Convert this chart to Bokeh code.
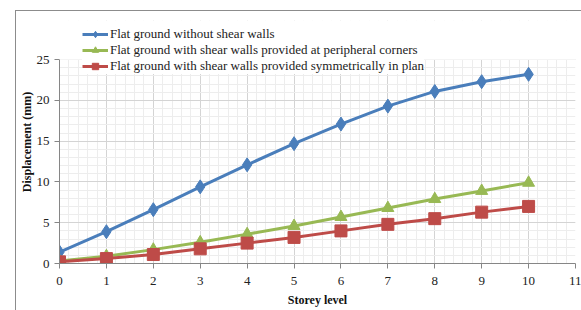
from bokeh.plotting import figure
from bokeh.models import FixedTicker, Legend, LegendItem, BoxAnnotation, Range1d
from bokeh.embed import file_html
from bokeh.resources import INLINE

storey = [0, 1, 2, 3, 4, 5, 6, 7, 8, 9, 10]
no_walls = [1.4, 3.9, 6.6, 9.4, 12.1, 14.7, 17.1, 19.3, 21.1, 22.3, 23.2]
corners = [0.3, 0.9, 1.7, 2.6, 3.6, 4.6, 5.7, 6.8, 7.9, 8.9, 9.9]
symmetric = [0.2, 0.6, 1.1, 1.8, 2.5, 3.2, 4.0, 4.8, 5.5, 6.3, 7.0]
x_ticks = [0, 1, 2, 3, 4, 5, 6, 7, 8, 9, 10, 11]
y_ticks = [0, 5, 10, 15, 20, 25]
names = ["Flat ground without shear walls",
         "Flat ground with shear walls provided at peripheral corners",
         "Flat ground with shear walls provided symmetrically in plan"]
colors = ["#4A7EBB", "#98B954", "#BE4B48"]

FONT = "Liberation Serif"
Y_MAX = 25
Y_TOP = 29.8  # extra room above the plot for the legend

p = figure(width=566, height=300, output_backend="svg", toolbar_location=None,
           x_range=Range1d(0, 11), y_range=Range1d(0, Y_TOP),
           min_border_left=43, min_border_right=7, min_border_top=9, min_border_bottom=48)
p.outline_line_color = None
p.background_fill_color = "white"
p.border_fill_color = "white"
p.margin = (10, 0, 0, 15)
p.styles = {"border-top": "1px solid #8C8C8C", "border-left": "1px solid #8C8C8C"}

x_minor = [i / 5 for i in range(0, 56)]
y_minor = list(range(0, 26))
p.xgrid.ticker = FixedTicker(ticks=x_ticks, minor_ticks=x_minor)
p.ygrid.ticker = FixedTicker(ticks=y_ticks, minor_ticks=y_minor)
for g in (p.xgrid, p.ygrid):
    g.grid_line_color = "#D4D4D4"
    g.minor_grid_line_color = "#EDEDED"

p.xaxis.ticker = FixedTicker(ticks=x_ticks)
p.yaxis.ticker = FixedTicker(ticks=y_ticks)
p.yaxis.bounds = (0, Y_MAX)
for ax in (p.xaxis, p.yaxis):
    ax.axis_line_color = "#868686"
    ax.major_tick_line_color = "#868686"
    ax.major_tick_in = 0
    ax.major_tick_out = 5
    ax.minor_tick_line_color = None
    ax.major_label_text_font = FONT
    ax.major_label_text_font_size = "13px"
    ax.major_label_text_color = "#222222"
    ax.axis_label_text_font = FONT
    ax.axis_label_text_font_size = "12px"
    ax.axis_label_text_font_style = "bold"
    ax.axis_label_text_color = "#111111"
p.xaxis.major_label_standoff = 8
p.xaxis.axis_label_standoff = 5
p.yaxis.major_label_standoff = 5
p.yaxis.axis_label_standoff = 0
p.xaxis.axis_label = "Storey level"
p.yaxis.axis_label = "Displacement (mm)"

# white cover hiding the grid above the top value
cover = BoxAnnotation(bottom=Y_MAX, fill_color="white", fill_alpha=1, line_color=None)
p.add_layout(cover)

items = []
markers = ["diamond", "triangle", "square"]
sizes = [14, 12, 12]
for ys, c, m, s, n in zip([no_walls, corners, symmetric], colors, markers, sizes, names):
    r1 = p.line(storey, ys, line_width=3, line_color=c)
    r2 = p.scatter(storey, ys, marker=m, size=s, fill_color=c, line_color=c)
    items.append(LegendItem(label=n, renderers=[r1, r2]))

legend = Legend(items=items, location=(23, 189), padding=0, margin=0, spacing=0,
                label_height=16, glyph_height=16, glyph_width=26, label_standoff=2,
                label_text_font=FONT, label_text_font_size="13px", label_text_color="#222222",
                border_line_color=None, background_fill_color="white", background_fill_alpha=1)
p.add_layout(legend, "center")

open("out.html", "w").write(file_html(p, INLINE))
